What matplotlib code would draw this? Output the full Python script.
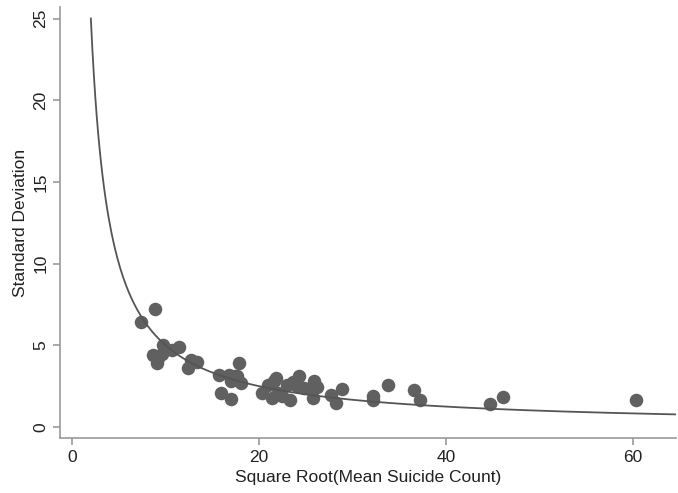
import numpy as np
import matplotlib.pyplot as plt

# -------------------------
# Data
# -------------------------

sqrt_mean = [7.4, 8.9, 8.7, 9.1, 9.2, 9.7, 9.6, 10.7, 11.4, 12.4, 12.7, 13.4,
             15.7, 15.9, 17.0, 16.8, 17.4, 17.9, 17.0, 18.1, 17.6,
             20.3, 21.0, 21.4, 21.6, 21.8, 22.0, 22.5, 23.0, 23.3, 23.6,
             24.1, 24.3, 24.8, 25.8, 25.9, 25.8, 26.2, 27.7, 28.2, 28.9,
             32.2, 32.2, 33.8, 36.6, 37.2, 44.7, 46.1, 60.3]
std_dev = [6.4, 7.2, 4.4, 3.9, 4.2, 5.0, 4.5, 4.7, 4.9, 3.6, 4.1, 4.0,
           3.2, 2.1, 1.7, 3.2, 3.1, 3.9, 2.8, 2.7, 3.1,
           2.1, 2.6, 1.8, 2.8, 3.0, 2.1, 1.9, 2.6, 1.65, 2.75,
           2.5, 3.1, 2.4, 2.3, 2.8, 1.8, 2.45, 1.95, 1.5, 2.3,
           1.65, 1.9, 2.55, 2.25, 1.65, 1.4, 1.85, 1.65]

k_fit = 50.0
x_fit_range = [2.0, 64.6]

x_ticks = [0, 20, 40, 60]
y_ticks = [0, 5, 10, 15, 20, 25]

# -------------------------
# Plot
# -------------------------

plt.rcParams['font.family'] = ['Liberation Sans', 'DejaVu Sans']

fig = plt.figure(figsize=(6.78, 4.93), dpi=100)
ax = fig.add_axes([0.0885, 0.1116, 0.9085, 0.874])

ax.scatter(sqrt_mean, std_dev, s=95, color='#606060', linewidths=0, zorder=2)

xs = np.linspace(x_fit_range[0], x_fit_range[1], 400)
ax.plot(xs, k_fit / xs, color='#555555', lw=1.3, zorder=3)

ax.set_xlim(-1.3, 64.6)
ax.set_ylim(-0.67, 25.7)
ax.set_xticks(x_ticks)
ax.set_yticks(y_ticks)
ax.set_yticklabels([str(v) for v in y_ticks], rotation=90, va='center')

for side in ['top', 'right']:
    ax.spines[side].set_visible(False)
for side in ['left', 'bottom']:
    ax.spines[side].set_color('#999999')
    ax.spines[side].set_linewidth(1.2)

ax.tick_params(colors='#999999', labelcolor='#222222', length=5, width=1.2,
               labelsize=12.5)
ax.set_xlabel("Square Root(Mean Suicide Count)", fontsize=12.5, color='#222222')
ax.set_ylabel("Standard Deviation", fontsize=12.5, color='#222222')

fig.savefig("out.png", dpi=100)
